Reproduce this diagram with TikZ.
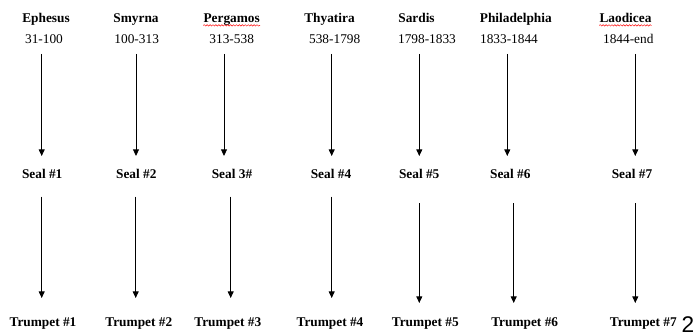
\documentclass[tikz,border=0pt]{standalone}
\usepackage{fontspec}
\setmainfont{Liberation Serif}
\newfontfamily\pagefont{Liberation Sans}
\usetikzlibrary{arrows.meta, decorations.pathmorphing}

\tikzset{
    church/.style={font=\bfseries, anchor=base, inner sep=0pt},
    period/.style={anchor=base, inner sep=0pt},
    seal/.style={font=\bfseries, anchor=base, inner sep=0pt},
    trumpet/.style={font=\bfseries, anchor=base, inner sep=0pt},
    flow/.style={-{Triangle[width=4.5pt, length=5pt]}, line width=0.65pt},
    spell/.style={red, line width=0.35pt, decorate,
        decoration={snake, segment length=2.2pt, amplitude=0.55pt}}
}

\begin{document}
\begin{tikzpicture}[x=0.75pt, y=-0.75pt]
    \useasboundingbox (0,0) rectangle (697,335);

    % churches
    \node[church] (eph) at (46,22.7) {Ephesus};
    \node[church] (smy) at (136,22.7) {Smyrna};
    \node[church] (per) at (231.7,22.7) {Pergamos};
    \node[church] (thy) at (329.5,22.7) {Thyatira};
    \node[church] (sar) at (416.5,22.7) {Sardis};
    \node[church] (phi) at (515.8,22.7) {Philadelphia};
    \node[church] (lao) at (625.5,22.7) {Laodicea};

    % periods
    \node[period] (yr1) at (44,43.3) {31-100};
    \node[period] (yr2) at (136.7,43.3) {100-313};
    \node[period] (yr3) at (231.7,43.3) {313-538};
    \node[period] (yr4) at (334.7,43.3) {538-1798};
    \node[period] (yr5) at (427,43.3) {1798-1833};
    \node[period] (yr6) at (509,43.3) {1833-1844};
    \node[period] (yr7) at (628.3,43.3) {1844-end};

    % seals
    \node[seal] (s1) at (42.2,179) {Seal \#1};
    \node[seal] (s2) at (136.3,179) {Seal \#2};
    \node[seal] (s3) at (232,179) {Seal 3\#};
    \node[seal] (s4) at (331,179) {Seal \#4};
    \node[seal] (s5) at (419.2,179) {Seal \#5};
    \node[seal] (s6) at (510.3,179) {Seal \#6};
    \node[seal] (s7) at (632,179) {Seal \#7};

    % trumpets
    \node[trumpet] (t1) at (43,326.5) {Trumpet \#1};
    \node[trumpet] (t2) at (138.8,326.5) {Trumpet \#2};
    \node[trumpet] (t3) at (227.8,326.5) {Trumpet \#3};
    \node[trumpet] (t4) at (330,326.5) {Trumpet \#4};
    \node[trumpet] (t5) at (425.3,326.5) {Trumpet \#5};
    \node[trumpet] (t6) at (524.7,326.5) {Trumpet \#6};
    \node[trumpet] (t7) at (643.3,326.5) {Trumpet \#7};

    \node[anchor=base, inner sep=0pt, font=\pagefont\fontsize{17}{17}\selectfont] (pg) at (688,332) {2};

    % arrow ends
    \foreach \n/\xa/\xb/\ya/\yb in {1/41.7/41.7/196.7/298, 2/136/135.7/196.7/298,
        3/224/230.7/196.7/298, 4/331.7/331.7/196.7/298, 5/419.3/419.3/203.3/303,
        6/507.3/513.7/203.3/303, 7/635.3/635.3/203.3/303}{
        \coordinate (a\n) at (\xa,54);
        \coordinate (b\n) at (\xa,156);
        \coordinate (c\n) at (\xb,\ya);
        \coordinate (d\n) at (\xb,\yb);
        \draw[flow] (a\n) -- (b\n);
        \draw[flow] (c\n) -- (d\n);
    }

    % spelling marks
    \draw[spell] ([yshift=-2pt]per.base west) -- ([yshift=-2pt]per.base east);
    \draw[spell] ([yshift=-2pt]lao.base west) -- ([yshift=-2pt]lao.base east);
\end{tikzpicture}
\end{document}
